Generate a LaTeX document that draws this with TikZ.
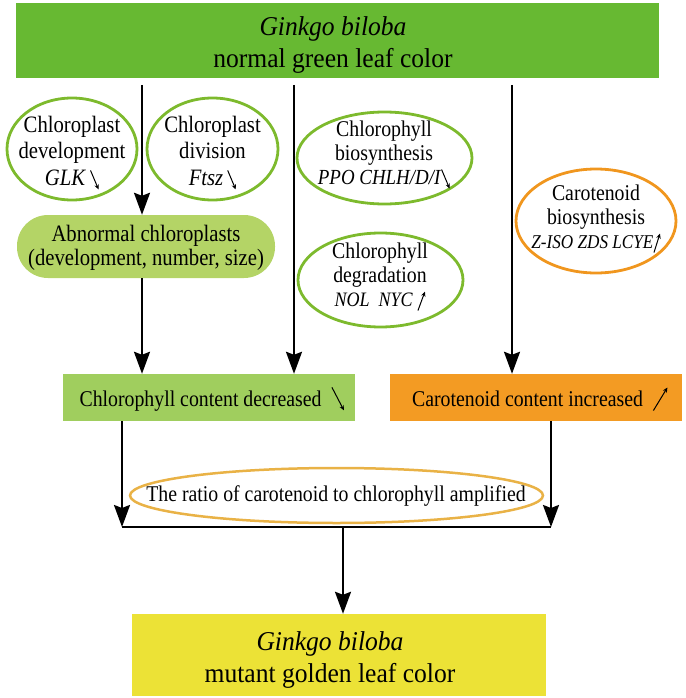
\documentclass[tikz,border=0pt]{standalone}
\usepackage{fontspec}
\setmainfont{Liberation Serif}[FakeStretch=0.88]
\newfontfamily\bigfont{Liberation Serif}[FakeStretch=0.94]
\usetikzlibrary{arrows.meta,shapes.geometric}
\definecolor{topgreen}{RGB}{103,185,50}
\definecolor{abngreen}{RGB}{180,212,102}
\definecolor{chlgreen}{RGB}{160,206,94}
\definecolor{carorange}{RGB}{243,155,35}
\definecolor{goldyellow}{RGB}{236,226,54}
\definecolor{ellgreen}{RGB}{125,186,45}
\definecolor{ellorange}{RGB}{240,150,30}
\definecolor{ratiogold}{RGB}{233,178,70}
\tikzset{
  ellgreenbox/.style={ellipse, draw=ellgreen, line width=2.8pt, inner sep=0pt},
  ellorangebox/.style={ellipse, draw=ellorange, line width=2.8pt, inner sep=0pt},
  ellratio/.style={ellipse, draw=ratiogold, line width=2.5pt, inner sep=0pt},
  ltext/.style={align=center, inner sep=0pt, font=\fontsize{23.5}{26.5}\selectfont},
  mtext/.style={align=center, inner sep=0pt, font=\fontsize{22.5}{24}\selectfont},
  bigtext/.style={align=center, inner sep=0pt, font=\bigfont\fontsize{27.2}{32}\selectfont},
  flatbox/.style={inner sep=0pt, draw=none},
  arr/.style={line width=2.2pt, -{Stealth[length=22pt,width=16pt,inset=3pt]}},
  plainline/.style={line width=2.2pt}
}
\newcommand{\dnar}[2]{\tikz[baseline=0pt]\draw[line width=1pt,-{Stealth[length=5pt,width=4.5pt]}] (0pt,#2) -- (#1,-4pt);}
\newcommand{\upar}[2]{\tikz[baseline=0pt]\draw[line width=1pt,-{Stealth[length=5pt,width=4.5pt]}] (0pt,-4pt) -- (#1,#2);}
\begin{document}
\begin{tikzpicture}[x=1pt,y=-1pt]
\useasboundingbox (0,0) rectangle (685,698);
% top box
\node[flatbox, fill=topgreen, minimum width=643pt, minimum height=75pt] (top) at (337.5,40.5) {};
\node[bigtext] (toptxt) at (333,45) {\textit{Ginkgo biloba}\\normal green leaf color};
% ellipses
\node[ellgreenbox, minimum width=130pt, minimum height=102pt] (e1) at (72,149) {};
\node[ltext] (t1) at (72,153) {Chloroplast\\development\\\textit{GLK}\,\dnar{8pt}{15pt}};
\node[ellgreenbox, minimum width=131pt, minimum height=102pt] (e2) at (212.5,149) {};
\node[ltext] (t2) at (212.5,153) {Chloroplast\\division\\\textit{Ftsz}\,\dnar{8pt}{15pt}};
\node[ellgreenbox, minimum width=175pt, minimum height=92pt] (e3) at (384.5,158) {};
\node[mtext] (t3) at (384,155) {Chlorophyll\\biosynthesis\\{\fontsize{21.5}{24}\selectfont\textit{PPO CHLH/D/I}\dnar{8pt}{15pt}}};
\node[ellgreenbox, minimum width=165pt, minimum height=94pt] (e4) at (380.5,280) {};
\node[mtext] (t4) at (380,277) {Chlorophyll\\degradation\\{\fontsize{20.5}{24}\selectfont\textit{NOL\ \ NYC}\ \upar{7pt}{15pt}}};
\node[ellorangebox, minimum width=160pt, minimum height=104pt] (e5) at (596,221) {};
\node[mtext] (t5) at (596,219) {Carotenoid\\biosynthesis\\{\fontsize{19.5}{24}\selectfont\textit{Z-ISO ZDS LCYE}\upar{6pt}{15pt}}};
% abnormal chloroplasts
\node[flatbox, fill=abngreen, rounded corners=31pt, minimum width=258pt, minimum height=63pt] (abn) at (146,246.5) {};
\node[align=center, inner sep=0pt, font=\fontsize{23.5}{23.5}\selectfont] (abntxt) at (146,248) {Abnormal chloroplasts\\(development, number, size)};
% content boxes
\node[flatbox, fill=chlgreen, minimum width=292pt, minimum height=47pt] (chl) at (209,397.5) {};
\node[mtext] (chltxt) at (212,399) {Chlorophyll content decreased\ \ \dnar{12pt}{19pt}};
\node[flatbox, fill=carorange, minimum width=292pt, minimum height=47pt] (car) at (536,397.5) {};
\node[mtext] (cartxt) at (540,399) {Carotenoid content increased\ \ \upar{14pt}{19pt}};
% ratio
\node[ellratio, minimum width=413pt, minimum height=55pt] (ratio) at (336.5,495.5) {};
\node[mtext] (ratiotxt) at (336,496) {The ratio of carotenoid to chlorophyll amplified};
% bottom box
\node[flatbox, fill=goldyellow, minimum width=414pt, minimum height=82pt] (bot) at (339,655) {};
\node[bigtext] (bottxt) at (330,660) {\textit{Ginkgo biloba}\\mutant golden leaf color};
% connectors
\coordinate (s1) at (142,85);
\coordinate (s2) at (294,85);
\coordinate (s3) at (512,85);
\coordinate (j1) at (122,527);
\coordinate (j2) at (551,527);
\coordinate (j3) at (343,527);
\draw[arr] (s1) -- (s1 |- abn.north);
\draw[arr] (s2) -- (s2 |- chl.north);
\draw[arr] (s3) -- (s3 |- car.north);
\draw[arr] (s1 |- abn.south) -- (s1 |- chl.north);
\draw[arr] (j1 |- chl.south) -- (j1);
\draw[arr] (j2 |- car.south) -- (j2);
\draw[plainline] (j1) -- (j2);
\draw[arr] (j3) -- (j3 |- bot.north);
\end{tikzpicture}
\end{document}
